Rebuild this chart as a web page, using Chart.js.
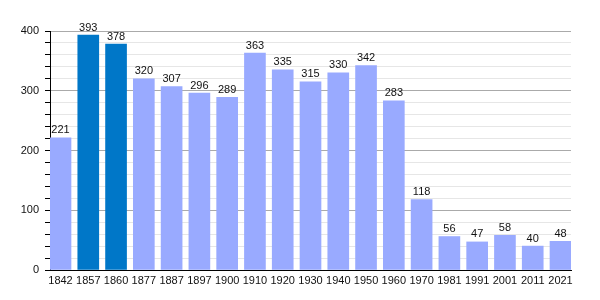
<!DOCTYPE html>
<html><head><meta charset="utf-8">
<script src="https://cdn.jsdelivr.net/npm/chart.js@4/dist/chart.umd.min.js"></script>
<style>html,body{margin:0;padding:0;background:#fff}#wrap{width:600px;height:300px}</style>
</head><body><div id="wrap"><canvas id="c"></canvas></div>
<script>
const years = ["1842","1857","1860","1877","1887","1897","1900","1910","1920","1930","1940","1950","1960","1970","1981","1991","2001","2011","2021"];
const population = [221,393,378,320,307,296,289,363,335,315,330,342,283,118,56,47,58,40,48];
const highlighted = ["1857","1860"];
const yTicks = [0,100,200,300,400];

const labelPlugin = {
  id: 'vals',
  afterDatasetsDraw(chart) {
    const ctx = chart.ctx;
    const meta = chart.getDatasetMeta(0);
    ctx.save();
    ctx.font = '11px "Liberation Sans", Arial, sans-serif';
    ctx.fillStyle = '#111';
    ctx.textAlign = 'center';
    ctx.textBaseline = 'bottom';
    meta.data.forEach((el, i) => {
      ctx.fillText(String(population[i]), el.x, el.y - 2);
    });
    ctx.restore();
  }
};

new Chart(document.getElementById('c'), {
  type: 'bar',
  data: {
    datasets: [{
      data: population.map((v, i) => ({x: i, y: v})),
      backgroundColor: years.map(y => highlighted.includes(y) ? '#0077c8' : '#99aaff'),
      borderWidth: 0,
      barThickness: 21
    }]
  },
  options: {
    responsive: true,
    maintainAspectRatio: false,
    animation: false,
    layout: {padding: {top: 31, right: 29, left: 0, bottom: 0}},
    plugins: {legend: {display: false}, tooltip: {enabled: false}},
    scales: {
      x: {
        type: 'linear',
        offset: false,
        min: -0.378,
        max: 18.378,
        afterBuildTicks: s => { s.ticks = years.map((_, i) => ({value: i})); },
        afterFit: s => { s.height = 30; },
        grid: {display: false, drawTicks: false},
        border: {display: true, color: '#000', width: 1},
        ticks: {
          callback: (v) => years[v] ?? '',
          autoSkip: false, maxRotation: 0,
          padding: 4,
          color: '#111',
          font: {family: '"Liberation Sans", Arial, sans-serif', size: 11}
        }
      },
      y: {
        min: 0, max: 400,
        afterFit: s => { s.width = 50; },
        ticks: {
          stepSize: 20,
          autoSkip: false,
          callback: v => yTicks.includes(v) ? String(v) : '',
          padding: 6,
          color: '#111',
          font: {family: '"Liberation Sans", Arial, sans-serif', size: 11}
        },
        grid: {
          color: c => (c.tick && c.tick.value % 100 === 0) ? '#aaaaaa' : '#e6e6e6',
          tickColor: '#000',
          tickLength: 5,
          lineWidth: 1
        },
        border: {display: true, color: '#000', width: 1}
      }
    }
  },
  plugins: [labelPlugin]
});
</script></body></html>
